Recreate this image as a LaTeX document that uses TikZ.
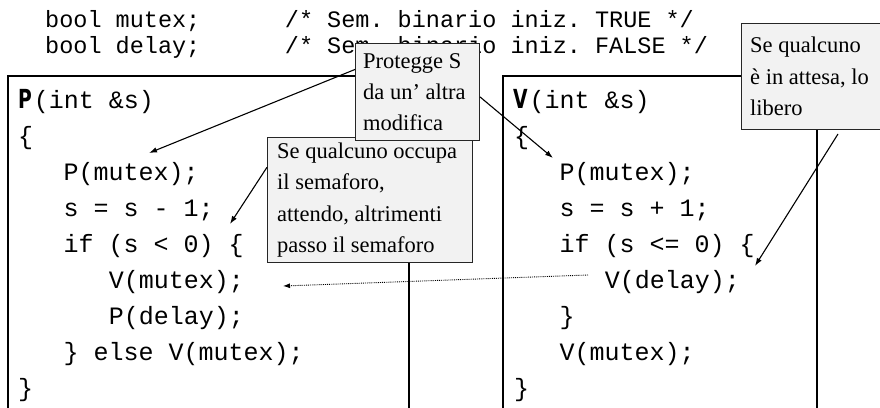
\documentclass[tikz,border=0pt]{standalone}
\usepackage{fontspec}
\usepackage{graphicx}
\setmainfont{Liberation Serif}
\setmonofont{Liberation Mono}
\newfontfamily\heavysans{DejaVu Sans}
\usetikzlibrary{arrows.meta,calc}

% heavy condensed initial letter of a procedure name
\newcommand\procletter[1]{\scalebox{0.75}[1.05]{\heavysans\bfseries\fontsize{25}{25}\selectfont #1}\hspace{2pt}}

\tikzset{
  code/.style={anchor=base west, inner sep=0pt, font=\ttfamily\fontsize{25}{25}\selectfont},
  hdr/.style={anchor=base west, inner sep=0pt, font=\ttfamily\fontsize{23.5}{23.5}\selectfont},
  codebox/.style={draw=black, line width=1.2pt},
  callout/.style={draw=black!85, line width=1pt, fill=black!5, anchor=north west, inner sep=0pt},
  calltext/.style={anchor=west, align=left, inner sep=0pt, font=\fontsize{22.5}{31.3}\selectfont},
  note/.style={-{Latex[length=8pt,width=5.5pt]}, line width=1.1pt},
  link/.style={-{Latex[length=7pt,width=5pt]}, line width=0.9pt, densely dotted},
}

\begin{document}
\begin{tikzpicture}[x=1pt,y=-1pt]
\clip (0,0) rectangle (880,407);

% declarations
\node[hdr] (hmutex) at (45,27) {bool mutex;\ \ \ \ \ \ /* Sem. binario iniz. TRUE */};
\node[hdr] (hdelay) at (45,53) {bool delay;\ \ \ \ \ \ /* Sem. binario iniz. FALSE */};

% procedure frames (open at the bottom)
\draw[codebox] (8,420) -- (8,76) -- (409,76) -- (409,420);
\draw[codebox] (503,420) -- (503,76) -- (817,76) -- (817,420);

% procedure P
\node[code] (lhead)  at (18,108)    {\procletter{P}(int \&s)};
\node[code] (lopen)  at (18,144)    {\{};
\node[code] (lpm)    at (63.3,180)  {P(mutex);};
\node[code] (ldec)   at (63.3,216)  {s = s - 1;};
\node[code] (lif)    at (63.3,252)  {if (s < 0) \{};
\node[code] (lvm)    at (108.6,288) {V(mutex);};
\node[code] (lpd)    at (108.6,324) {P(delay);};
\node[code] (lelse)  at (63.3,360)  {\} else V(mutex);};
\node[code] (lclose) at (18,396)    {\}};

% procedure V
\node[code] (rhead)  at (513,108)   {\procletter{V}(int \&s)};
\node[code] (ropen)  at (514,144)   {\{};
\node[code] (rpm)    at (559.3,180) {P(mutex);};
\node[code] (rinc)   at (559.3,216) {s = s + 1;};
\node[code] (rif)    at (559.3,252) {if (s <= 0) \{};
\node[code] (rvd)    at (604.6,288) {V(delay);};
\node[code] (rend)   at (559.3,324) {\}};
\node[code] (rvm)    at (559.3,360) {V(mutex);};
\node[code] (rclose) at (514,396)   {\}};

% comment boxes and their texts
\node[callout, minimum width=205pt, minimum height=125pt] (occ) at (267,137) {};
\node[calltext] (occtext) at ($(occ.west)+(10,0)$)
  {Se qualcuno occupa\\il semaforo,\\attendo, altrimenti\\passo il semaforo};
\node[callout, minimum width=124pt, minimum height=97pt] (prot) at (355,43) {};
\node[calltext] (prottext) at ($(prot.west)+(8,0)$)
  {Protegge S\\da un’ altra\\modifica};
\node[callout, minimum width=160pt, minimum height=106pt] (att) at (741,23) {};
\node[calltext] (atttext) at ($(att.west)+(9,0)$)
  {Se qualcuno\\è in attesa, lo\\libero};

% pointers from comments to code
\coordinate (p1) at (149,153);
\coordinate (p2) at (553,158);
\coordinate (p3) at (230,224);
\coordinate (p4) at (755,266);
\coordinate (q4) at ($(att.south west)+(97,4)$);
\coordinate (q5) at (588,275);
\coordinate (p5) at (283,286);

\draw[note] ($(prot.north west)!0.27!(prot.south west)$) -- (p1);
\draw[note] ($(prot.north east)!0.55!(prot.south east)$) -- (p2);
\draw[note] ($(occ.north west)!0.24!(occ.south west)$) -- (p3);
\draw[note] (q4) -- (p4);
\draw[link] (q5) -- (p5);
\end{tikzpicture}
\end{document}
